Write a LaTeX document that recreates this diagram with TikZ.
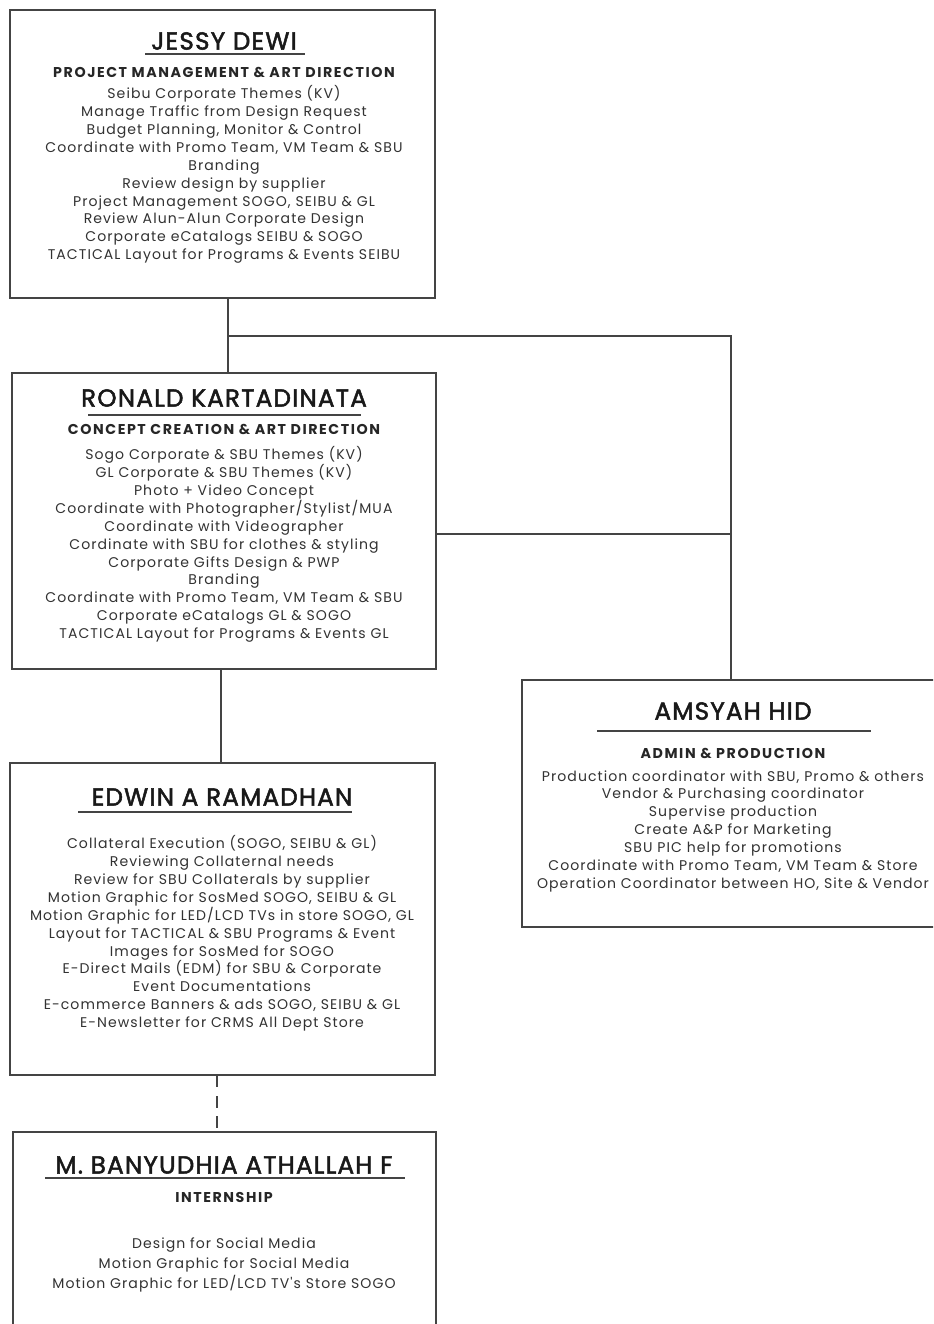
\documentclass[tikz,border=0pt]{standalone}
\usepackage{fontspec}
\setmainfont{Poppins}
\newfontfamily\namefont{Poppins}[LetterSpace=5,FakeBold=2]
\newfontfamily\rolefont{Poppins}[LetterSpace=11]
\newfontfamily\dutyfont{Poppins}[LetterSpace=7.5]
\usepackage{tikz}
\definecolor{lineGrey}{RGB}{68,68,68}
\definecolor{dutyGrey}{RGB}{50,50,50}

\begin{document}
\begin{tikzpicture}[x=0.02cm,y=-0.02cm,
  orgbox/.style={draw=lineGrey,line width=1.2pt,rectangle,inner sep=0pt},
  pname/.style={font=\namefont\fontsize{14}{16}\selectfont,text=black!90,inner sep=0pt},
  prole/.style={font=\rolefont\bfseries\fontsize{8.1}{9}\selectfont,text=black!85,inner sep=0pt},
  duties/.style={font=\dutyfont\fontsize{8}{10.2}\selectfont,text=dutyGrey,align=center,inner sep=0pt,anchor=north},
  link/.style={draw=lineGrey,line width=1.2pt}]
  \useasboundingbox (0,0) rectangle (933,1324);
  \clip (0,0) rectangle (933,1324);
  \fill[white] (0,0) rectangle (933,1324);

  \node[orgbox,minimum width=8.5cm,minimum height=5.76cm] (jessy) at (222.5,154) {};
  \node[pname] (jessyname) at (224,41) {JESSY DEWI};
  \draw[lineGrey,line width=1pt] (145,54) -- (305,54);
  \node[prole] (jessyrole) at (224,72) {PROJECT MANAGEMENT \& ART DIRECTION};
  \node[duties] (jessyduty) at (224,85) {Seibu Corporate Themes (KV)\\
    Manage Traffic from Design Request\\
    Budget Planning, Monitor \& Control\\
    Coordinate with Promo Team, VM Team \& SBU\\
    Branding\\
    Review design by supplier\\
    Project Management SOGO, SEIBU \& GL\\
    Review Alun-Alun Corporate Design\\
    Corporate eCatalogs SEIBU \& SOGO\\
    TACTICAL Layout for Programs \& Events SEIBU};

  \node[orgbox,minimum width=8.48cm,minimum height=5.92cm] (ronald) at (224,521) {};
  \node[pname] (ronaldname) at (224,398) {RONALD KARTADINATA};
  \draw[lineGrey,line width=1pt] (88,415) -- (361,415);
  \node[prole] (ronaldrole) at (224,429) {CONCEPT CREATION \& ART DIRECTION};
  \node[duties] (ronaldduty) at (224,446) {Sogo Corporate \& SBU Themes (KV)\\
    GL Corporate \& SBU Themes (KV)\\
    Photo + Video Concept\\
    Coordinate with Photographer/Stylist/MUA\\
    Coordinate with Videographer\\
    Cordinate with SBU for clothes \& styling\\
    Corporate Gifts Design \& PWP\\
    Branding\\
    Coordinate with Promo Team, VM Team \& SBU\\
    Corporate eCatalogs GL \& SOGO\\
    TACTICAL Layout for Programs \& Events GL};

  \node[orgbox,minimum width=8.44cm,minimum height=4.94cm] (amsyah) at (733,803.5) {};
  \node[pname] (amsyahname) at (733,711) {AMSYAH HID};
  \draw[lineGrey,line width=1pt] (597,731) -- (871,731);
  \node[prole] (amsyahrole) at (733,753) {ADMIN \& PRODUCTION};
  \node[duties] (amsyahduty) at (733,770) {Production coordinator with SBU, Promo \& others\\
    Vendor \& Purchasing coordinator\\
    Supervise production\\
    Create A\&P for Marketing\\
    SBU PIC help for promotions\\
    Coordinate with Promo Team, VM Team \& Store\\
    Operation Coordinator between HO, Site \& Vendor};

  \node[orgbox,minimum width=8.5cm,minimum height=6.24cm] (edwin) at (222.5,919) {};
  \node[pname] (edwinname) at (222,797) {EDWIN A RAMADHAN};
  \draw[lineGrey,line width=1pt] (78,812) -- (352,812);
  \node[duties] (edwinduty) at (222,835) {Collateral Execution (SOGO, SEIBU \& GL)\\
    Reviewing Collaternal needs\\
    Review for SBU Collaterals by supplier\\
    Motion Graphic for SosMed SOGO, SEIBU \& GL\\
    Motion Graphic for LED/LCD TVs in store SOGO, GL\\
    Layout for TACTICAL \& SBU Programs \& Event\\
    Images for SosMed for SOGO\\
    E-Direct Mails (EDM) for SBU \& Corporate\\
    Event Documentations\\
    E-commerce Banners \& ads SOGO, SEIBU \& GL\\
    E-Newsletter for CRMS All Dept Store};

  \node[orgbox,minimum width=8.46cm,minimum height=4.16cm] (intern) at (224.5,1236) {};
  \node[pname] (internname) at (224,1165) {M. BANYUDHIA ATHALLAH F};
  \draw[lineGrey,line width=1pt] (45,1178) -- (405,1178);
  \node[prole] (internrole) at (224,1197) {INTERNSHIP};
  \node[duties,font=\dutyfont\fontsize{8}{11.4}\selectfont] (internduty) at (224,1237) {Design for Social Media\\
    Motion Graphic for Social Media\\
    Motion Graphic for LED/LCD TV's Store SOGO};

  \coordinate (jsplit) at (228,336);
  \coordinate (acol) at (731,534);
  \coordinate (rdrop) at (221,716);
  \coordinate (edrop) at (217,1100);
  \draw[link] (jessy.south -| jsplit) -- (ronald.north -| jsplit);
  \draw[link] (jsplit) -| (amsyah.north -| acol);
  \draw[link] (ronald.east |- acol) -- (acol);
  \draw[link] (ronald.south -| rdrop) -- (edwin.north -| rdrop);
  \draw[link,dash pattern=on 6.5pt off 5pt] (edwin.south -| edrop) -- (intern.north -| edrop);
\end{tikzpicture}
\end{document}
